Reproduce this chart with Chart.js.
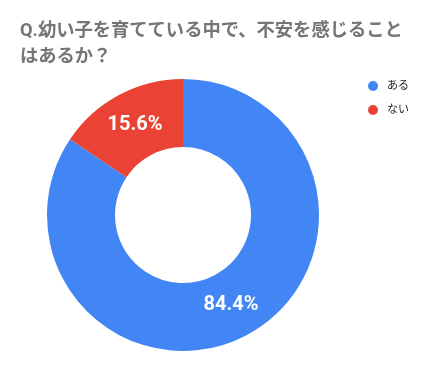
<!DOCTYPE html>
<html>
<head>
<meta charset="utf-8">
<script src="https://cdn.jsdelivr.net/npm/chart.js@4.4.1/dist/chart.umd.min.js"></script>
<style>
    html, body { margin: 0; padding: 0; background: #fff; }
    #wrap { position: relative; width: 428px; height: 371px; }
</style>
</head>
<body>
<div id="wrap"><canvas id="pieCanvas" width="428" height="371"></canvas></div>
<script>
var titleLines = ['Q.幼い子を育てている中で、不安を感じること', 'はあるか？'];
var labels = ['ある', 'ない'];
var values = [84.4, 15.6];
var colors = ['#4285F4', '#EA4335'];

var FONT = "Roboto, 'Noto Sans CJK JP', sans-serif";

// title, legend and slice labels drawn on the canvas
var extras = {
    id: 'extras',
    afterDatasetsDraw: function(chart) {
        var ctx = chart.ctx;
        ctx.save();

        // slice percentages
        var meta = chart.getDatasetMeta(0);
        ctx.fillStyle = '#fff';
        ctx.font = 'bold 20px ' + FONT;
        ctx.textAlign = 'center';
        ctx.textBaseline = 'middle';
        meta.data.forEach(function(arc, i) {
            var p = arc.tooltipPosition();
            ctx.fillText(values[i].toFixed(1) + '%', p.x, p.y);
        });

        // title
        ctx.fillStyle = '#757575';
        ctx.font = 'bold 18.3px ' + FONT;
        ctx.textAlign = 'left';
        ctx.textBaseline = 'middle';
        titleLines.forEach(function(line, i) {
            ctx.fillText(line, 20, 31 + i * 26);
        });

        // legend
        ctx.font = '11px ' + FONT;
        labels.forEach(function(lab, i) {
            var y = 86 + i * 24;
            ctx.fillStyle = colors[i];
            ctx.beginPath();
            ctx.arc(373, y, 5, 0, Math.PI * 2);
            ctx.fill();
            ctx.fillStyle = '#222';
            ctx.fillText(lab, 387, y);
        });
        ctx.restore();
    }
};

var ctx = document.getElementById('pieCanvas').getContext('2d');
var pieChart = new Chart(ctx, {
    type: 'doughnut',
    data: {
        labels: labels,
        datasets: [{
            data: values,
            backgroundColor: colors,
            borderWidth: 0
        }]
    },
    options: {
        responsive: false,
        animation: false,
        cutout: '50%',
        layout: {
            padding: { left: 47, right: 109, top: 79, bottom: 20 }
        },
        plugins: {
            legend: { display: false },
            tooltip: { enabled: false }
        }
    },
    plugins: [extras]
});
</script>
</body>
</html>
